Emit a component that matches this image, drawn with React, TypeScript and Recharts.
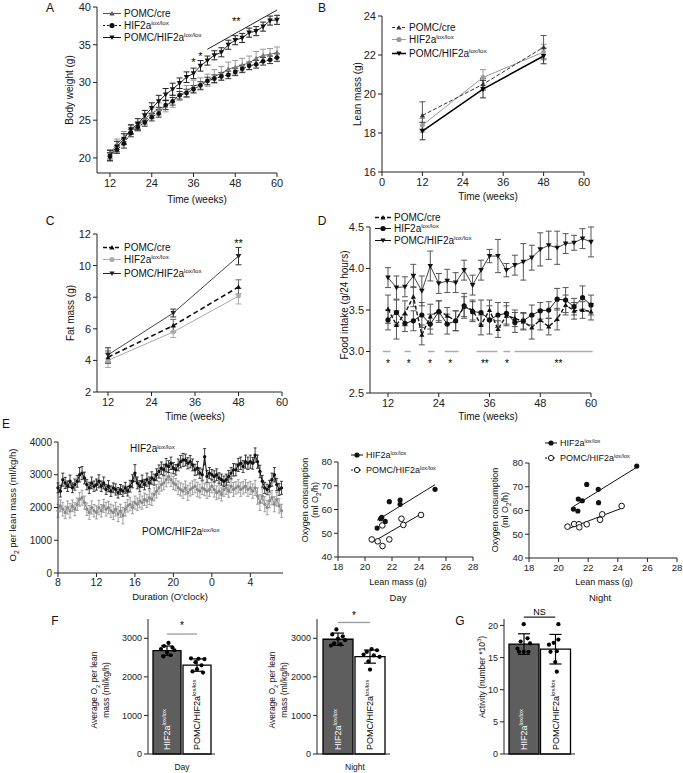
import React from 'react';
import {
  ComposedChart, Line, Scatter, Bar, Cell, XAxis, YAxis, ErrorBar,
  ReferenceLine, ReferenceDot, LabelList,
} from 'recharts';

const FONT = '"Liberation Sans", Arial, Helvetica, sans-serif';
const AX = '#222';

// ---------- A: body weight ----------
const weeksA = [12, 14, 16, 18, 20, 22, 24, 26, 28, 30, 32, 34, 36, 38, 40, 42, 44, 46, 48, 50, 52, 54, 56, 58, 60];
const bwCre = [20.5, 21.8, 22.8, 23.7, 24.2, 25.2, 25.9, 26.5, 26.9, 27.5, 28.4, 28.8, 29.5, 29.8, 30.3, 30.8, 31.2, 31.8, 32.0, 32.3, 32.6, 33.2, 33.6, 33.7, 34.0];
const bwCreErr = [0.6, 0.7, 0.7, 0.6, 0.6, 0.7, 0.7, 0.8, 0.8, 0.8, 0.8, 0.8, 0.8, 0.8, 0.8, 0.9, 0.9, 0.9, 0.9, 0.9, 0.9, 0.9, 0.8, 0.8, 0.7];
const bwHif = [20.2, 21.1, 21.9, 23.3, 24.1, 24.7, 25.4, 25.9, 27.0, 27.5, 28.3, 28.6, 29.1, 29.6, 30.2, 30.5, 30.8, 31.0, 31.4, 31.8, 32.2, 32.4, 32.8, 33.0, 33.3];
const bwHifErr = [0.5, 0.5, 0.6, 0.5, 0.5, 0.5, 0.5, 0.5, 0.6, 0.5, 0.5, 0.5, 0.5, 0.5, 0.5, 0.5, 0.5, 0.5, 0.5, 0.5, 0.5, 0.5, 0.5, 0.5, 0.5];
const bwKo = [20.3, 21.5, 22.5, 23.8, 24.5, 25.6, 26.6, 27.5, 28.4, 29.1, 29.9, 30.7, 31.2, 32.2, 32.9, 33.6, 34.0, 35.0, 35.6, 35.9, 36.6, 36.8, 37.4, 38.2, 38.3];
const bwKoErr = [0.7, 0.7, 0.7, 0.6, 0.7, 0.7, 0.7, 0.8, 0.8, 0.8, 0.7, 0.7, 0.7, 0.7, 0.6, 0.6, 0.6, 0.6, 0.6, 0.6, 0.6, 0.6, 0.6, 0.6, 0.6];
const weekTicks = [12, 24, 36, 48, 60];

// ---------- B: lean mass ----------
const weeksB = [12, 30, 48];
const leanCre = [18.9, 20.5, 22.4];
const leanCreErr = [0.7, 0.3, 0.6];
const leanHif = [18.4, 20.85, 22.15];
const leanHifErr = [0.35, 0.4, 0.4];
const leanKo = [18.1, 20.25, 21.95];
const leanKoErr = [0.45, 0.45, 0.4];

// ---------- C: fat mass ----------
const fatCre = [4.2, 6.2, 8.65];
const fatCreErr = [0.4, 0.4, 0.45];
const fatHif = [4.0, 5.8, 8.07];
const fatHifErr = [0.45, 0.35, 0.5];
const fatKo = [4.35, 7.0, 10.6];
const fatKoErr = [0.45, 0.25, 0.55];

// ---------- D: food intake ----------
const foodCre = [3.51, 3.32, 3.46, 3.66, 3.20, 3.42, 3.49, 3.43, 3.37, 3.54, 3.50, 3.32, 3.50, 3.27, 3.43, 3.40, 3.36, 3.29, 3.38, 3.30, 3.39, 3.56, 3.49, 3.50, 3.48];
const foodCreErr = [0.17, 0.17, 0.15, 0.12, 0.12, 0.15, 0.12, 0.1, 0.12, 0.12, 0.12, 0.12, 0.12, 0.1, 0.12, 0.1, 0.1, 0.14, 0.12, 0.1, 0.13, 0.12, 0.1, 0.1, 0.1];
const foodHif = [3.38, 3.47, 3.34, 3.37, 3.44, 3.33, 3.48, 3.33, 3.37, 3.55, 3.48, 3.47, 3.38, 3.44, 3.46, 3.35, 3.37, 3.44, 3.49, 3.50, 3.63, 3.62, 3.54, 3.65, 3.56];
const foodHifErr = [0.12, 0.15, 0.1, 0.12, 0.15, 0.12, 0.13, 0.12, 0.12, 0.15, 0.12, 0.15, 0.17, 0.15, 0.13, 0.12, 0.1, 0.12, 0.1, 0.1, 0.13, 0.15, 0.1, 0.14, 0.12];
const foodKo = [3.89, 3.77, 3.78, 3.91, 3.73, 4.03, 3.82, 3.85, 3.83, 3.98, 3.80, 3.98, 4.15, 4.15, 3.98, 4.04, 4.08, 4.13, 4.23, 4.28, 4.25, 4.30, 4.31, 4.36, 4.32];
const foodKoErr = [0.12, 0.14, 0.12, 0.14, 0.18, 0.18, 0.12, 0.14, 0.12, 0.12, 0.12, 0.12, 0.08, 0.2, 0.08, 0.12, 0.22, 0.15, 0.2, 0.17, 0.2, 0.12, 0.09, 0.12, 0.18];
const sigStart = [10.8, 15.9, 21.4, 25.4, 32.9, 39.3, 41.9];
const sigEnd = [12.6, 17.4, 23.0, 28.7, 37.9, 40.9, 60.4];
const starWeek = [12, 16.9, 21.9, 26.7, 34.9, 40.1, 52.3];
const starText = ['*', '*', '*', '*', '**', '*', '**'];

// ---------- E: O2 time course (15 min steps from 8:00) ----------
const stepHours = 0.25;
const o2Hif = [
  2600, 2500, 2850, 2750, 2650, 2800, 2600, 2700,
  2800, 3000, 3050, 2900, 2700, 2600, 2750, 2650,
  2700, 2800, 2650, 2750, 2550, 2650, 2500, 2600,
  2550, 2450, 2550, 2500, 2600, 2500, 2650, 2800,
  3050, 2750, 2650, 2800, 2700, 2850, 2750, 2900,
  2850, 3000, 3100, 3200, 3150, 3300, 3250, 3350,
  3200, 3150, 3300, 3400, 3450, 3450, 3350, 3400,
  3300, 3150, 3200, 3050, 3000, 3550, 2950, 3050,
  3000, 2950, 3000, 2900, 2850, 2800, 2850, 2950,
  3050, 3150, 3150, 3300, 3350, 3250, 3400, 3350,
  3400, 3350, 3600, 3400, 3100, 2800, 2600, 2550,
  2650, 2850, 3000, 2700, 2550, 2600,
];
const o2HifErr = [
  150, 180, 200, 170, 160, 190, 150, 170,
  180, 220, 200, 180, 160, 170, 180, 160,
  170, 200, 160, 180, 150, 170, 160, 150,
  170, 160, 150, 160, 170, 150, 180, 200,
  260, 180, 170, 190, 160, 200, 180, 190,
  170, 180, 200, 190, 170, 200, 180, 190,
  170, 160, 180, 190, 200, 180, 170, 190,
  180, 170, 200, 160, 170, 250, 180, 170,
  160, 170, 180, 160, 170, 160, 170, 180,
  170, 190, 180, 200, 190, 180, 200, 190,
  200, 180, 220, 200, 190, 180, 170, 160,
  180, 200, 220, 190, 180, 200,
];
const o2Ko = [
  1900, 2050, 1950, 1850, 2000, 1900, 2050, 1950,
  2100, 2250, 2300, 2150, 1950, 1850, 2000, 1900,
  1850, 2000, 1900, 2050, 1950, 2000, 1900, 1850,
  1950, 1800, 1900, 1750, 1950, 2050, 2100, 2000,
  2150, 2100, 2200, 2150, 2250, 2200, 2300, 2250,
  2400, 2500, 2600, 2700, 2750, 2850, 2950, 2850,
  2750, 2700, 2600, 2550, 2500, 2600, 2450, 2550,
  2600, 2650, 2550, 2500, 2600, 2550, 2500, 2550,
  2650, 2550, 2450, 2500, 2400, 2550, 2600, 2500,
  2650, 2550, 2600, 2650, 2550, 2600, 2650, 2550,
  2600, 2500, 2600, 2350, 2150, 2350, 2100, 2000,
  2200, 2300, 2100, 2250, 2050, 1900,
];
const o2KoErr = [
  200, 180, 210, 190, 200, 220, 180, 200,
  190, 210, 230, 200, 190, 210, 200, 190,
  200, 220, 190, 200, 210, 190, 200, 220,
  210, 230, 200, 250, 210, 190, 200, 190,
  200, 190, 210, 200, 190, 200, 210, 190,
  200, 210, 190, 200, 210, 220, 200, 210,
  200, 190, 210, 200, 220, 210, 230, 200,
  210, 200, 220, 210, 200, 190, 220, 210,
  200, 230, 210, 220, 200, 210, 200, 190,
  200, 210, 190, 200, 210, 190, 200, 210,
  200, 220, 230, 250, 240, 220, 230, 220,
  210, 220, 230, 210, 220, 200,
];
const clockTicks = [0, 4, 8, 12, 16, 20];
const clockLabels = ['8', '12', '16', '20', '0', '4'];

// ---------- E: O2 vs lean mass ----------
const dayHifLean = [20.9, 21.16, 21.24, 21.5, 21.8, 22.6, 22.6, 25.19];
const dayHifO2 = [52.2, 56.1, 56.7, 55.0, 63.3, 62.2, 64.0, 68.5];
const dayKoLean = [20.5, 20.94, 21.3, 21.28, 21.8, 22.7, 22.84, 24.15];
const dayKoO2 = [47.4, 46.6, 44.6, 53.3, 47.4, 56.1, 53.5, 57.7];
const nightHifLean = [21.0, 21.3, 21.33, 21.6, 21.9, 22.68, 22.7, 25.28];
const nightHifO2 = [60.6, 59.8, 64.8, 64.1, 71.0, 68.9, 63.3, 78.7];
const nightKoLean = [20.6, 21.05, 21.37, 21.4, 21.9, 22.8, 22.95, 24.26];
const nightKoO2 = [53.2, 54.3, 54.2, 52.9, 54.2, 56.1, 58.4, 61.9];

// ---------- F / G: bars ----------
const groups = ['HIF2a', 'POMC/HIF2a'];
const dayMean = [2680, 2305];
const dayErr = [120, 160];
const dayHifDots = [2880, 2800, 2760, 2720, 2690, 2630, 2560, 2530];
const dayHifJit = [0.55, 0.40, 0.68, 0.30, 0.75, 0.50, 0.62, 0.38];
const dayKoDots = [2480, 2470, 2460, 2380, 2300, 2200, 2140, 2110];
const dayKoJit = [0.30, 0.55, 0.75, 0.45, 0.65, 0.50, 0.35, 0.70];
const nightMean = [2975, 2525];
const nightErr = [160, 170];
const nightHifDots = [3230, 3100, 3050, 2990, 2950, 2870, 2840, 2810];
const nightHifJit = [0.45, 0.32, 0.65, 0.50, 0.72, 0.38, 0.58, 0.28];
const nightKoDots = [2720, 2690, 2650, 2580, 2560, 2520, 2400, 2190];
const nightKoJit = [0.55, 0.72, 0.40, 0.30, 0.62, 0.80, 0.45, 0.50];
const actMean = [17.1, 16.3];
const actErr = [1.6, 2.3];
const actHifDots = [20.2, 18.0, 17.5, 17.2, 16.4, 15.9, 15.9, 15.9];
const actHifJit = [0.5, 0.62, 0.40, 0.70, 0.30, 0.35, 0.5, 0.65];
const actKoDots = [20.2, 17.8, 17.3, 17.0, 16.0, 15.9, 14.3, 12.8];
const actKoJit = [0.6, 0.6, 0.45, 0.3, 0.55, 0.35, 0.5, 0.55];

type Box = { left: number; top: number; w: number; h: number };
type Plot = { l: number; t: number; r: number; b: number };

function layout(box: Box, plot: Plot) {
  return {
    margin: { top: plot.t - box.top, right: box.left + box.w - plot.r, bottom: 0, left: 0 },
    yw: plot.l - box.left,
    xh: box.top + box.h - plot.b,
  };
}

const tk = (size: number) => ({ fontSize: size, fill: '#222', fontFamily: FONT });

function Place({ box, children }: { box: Box; children: React.ReactNode }) {
  return <div style={{ position: 'absolute', left: box.left, top: box.top, width: box.w, height: box.h }}>{children}</div>;
}

function T({ x, y, size = 10, rot = false, anchor = 'middle', children, color = '#111' }: any) {
  const tx = anchor === 'middle' ? '-50%' : anchor === 'end' ? '-100%' : '0';
  return (
    <div style={{
      position: 'absolute', left: x, top: y, whiteSpace: 'nowrap', fontFamily: FONT, fontSize: size,
      lineHeight: 1.15, color, textAlign: 'center',
      transform: rot ? 'translate(-50%,-50%) rotate(-90deg)' : `translate(${tx},-50%)`,
    }}>{children}</div>
  );
}

const supStyle: React.CSSProperties = { fontSize: '0.62em', verticalAlign: '0.6em', lineHeight: 0 };
const Hif = () => <>HIF2a<sup style={supStyle}>lox/lox</sup></>;
const Ko = () => <>POMC/HIF2a<sup style={supStyle}>lox/lox</sup></>;

function mark(kind: string, cx: number, cy: number, s: number, color: string, key?: any) {
  if (kind === 'up') return <polygon key={key} points={`${cx},${cy - s} ${cx - s},${cy + s * 0.75} ${cx + s},${cy + s * 0.75}`} fill={color} />;
  if (kind === 'down') return <polygon key={key} points={`${cx},${cy + s} ${cx - s},${cy - s * 0.75} ${cx + s},${cy - s * 0.75}`} fill={color} />;
  if (kind === 'open') return <circle key={key} cx={cx} cy={cy} r={s} fill="#fff" stroke={color} strokeWidth={1} />;
  return <circle key={key} cx={cx} cy={cy} r={s} fill={color} />;
}
const dotFn = (kind: string, s: number, color: string) => (p: any) =>
  p.cx == null || p.cy == null ? <g key={p.index} /> : mark(kind, p.cx, p.cy, s, color, p.index);

type S = { key: string; err: string; kind: string; color: string; line: string; dash?: string; width?: number; errColor: string; size: number };
const series = (list: S[]) => list.map((s) => (
  <Line key={s.key} dataKey={s.key} stroke={s.line} strokeWidth={s.width ?? 1} strokeDasharray={s.dash}
    dot={dotFn(s.kind, s.size, s.color)} activeDot={false} isAnimationActive={false}>
    <ErrorBar dataKey={s.err} width={3} stroke={s.errColor} strokeWidth={1} direction="y" />
  </Line>
));

const starLabel = (value: string, size = 11) => ({ value, position: 'center' as const, fontSize: size, fill: '#000', fontFamily: FONT });

type LI = { kind: string; color: string; dash?: string; width?: number; text: React.ReactNode };
function Legend({ x, ys, items, size = 10, len = 18 }: { x: number; ys: number[]; items: LI[]; size?: number; len?: number }) {
  return (
    <>
      {items.map((it, i) => (
        <div key={i} style={{ position: 'absolute', left: x, top: ys[i], transform: 'translateY(-50%)', display: 'flex', alignItems: 'center', fontFamily: FONT, fontSize: size, whiteSpace: 'nowrap', color: '#111' }}>
          <svg width={len} height={10} style={{ marginRight: 3 }}>
            <line x1={0} x2={len} y1={5} y2={5} stroke={it.color} strokeWidth={it.width ?? 1} strokeDasharray={it.dash} />
            {mark(it.kind, len / 2, 5, 2.6, it.color)}
          </svg>
          <span>{it.text}</span>
        </div>
      ))}
    </>
  );
}

function PanelA() {
  const box = { left: 0, top: 0, w: 290, h: 215 };
  const L = layout(box, { l: 97, t: 7, r: 277, b: 173 });
  const rows = weeksA.map((w, i) => ({ w, cre: bwCre[i], creE: bwCreErr[i], hif: bwHif[i], hifE: bwHifErr[i], ko: bwKo[i], koE: bwKoErr[i] }));
  return (
    <Place box={box}>
      <ComposedChart width={box.w} height={box.h} data={rows} margin={L.margin}>
        <XAxis dataKey="w" type="number" domain={[12, 60]} ticks={weekTicks} padding={{ left: 13, right: 0 }} height={L.xh} tick={tk(11)} tickSize={4} stroke={AX} interval={0} />
        <YAxis type="number" domain={[18, 40]} ticks={[20, 25, 30, 35, 40]} width={L.yw} tick={tk(11)} tickSize={4} stroke={AX} interval={0} />
        {series([
          { key: 'cre', err: 'creE', kind: 'up', color: '#777', line: '#666', errColor: '#999', size: 2.6 },
          { key: 'hif', err: 'hifE', kind: 'circle', color: '#111', line: '#111', dash: '2 2', errColor: '#333', size: 2.4 },
          { key: 'ko', err: 'koE', kind: 'down', color: '#111', line: '#222', errColor: '#222', size: 2.8 },
        ])}
        <ReferenceLine segment={[{ x: 40, y: 34.4 }, { x: 60, y: 39.6 }]} stroke="#222" ifOverflow="visible" />
        <ReferenceDot x={36} y={32.7} r={0.01} ifOverflow="visible" label={starLabel('*')} />
        <ReferenceDot x={38} y={33.5} r={0.01} ifOverflow="visible" label={starLabel('*')} />
        <ReferenceDot x={48.3} y={38.1} r={0.01} ifOverflow="visible" label={starLabel('**')} />
      </ComposedChart>
    </Place>
  );
}

function PanelB() {
  const box = { left: 340, top: 0, w: 260, h: 215 };
  const L = layout(box, { l: 382, t: 16, r: 584, b: 172 });
  const rows = weeksB.map((w, i) => ({ w, cre: leanCre[i], creE: leanCreErr[i], hif: leanHif[i], hifE: leanHifErr[i], ko: leanKo[i], koE: leanKoErr[i] }));
  return (
    <Place box={box}>
      <ComposedChart width={box.w} height={box.h} data={rows} margin={L.margin}>
        <XAxis dataKey="w" type="number" domain={[0, 60]} ticks={[0, 12, 24, 36, 48, 60]} height={L.xh} tick={tk(11)} tickSize={4} stroke={AX} interval={0} />
        <YAxis type="number" domain={[16, 24]} ticks={[16, 18, 20, 22, 24]} width={L.yw} tick={tk(11)} tickSize={4} stroke={AX} interval={0} />
        {series([
          { key: 'hif', err: 'hifE', kind: 'circle', color: '#999', line: '#999', errColor: '#999', size: 2.4 },
          { key: 'cre', err: 'creE', kind: 'up', color: '#333', line: '#333', dash: '4 2', errColor: '#555', size: 2.6 },
          { key: 'ko', err: 'koE', kind: 'down', color: '#000', line: '#000', width: 1.5, errColor: '#333', size: 2.8 },
        ])}
      </ComposedChart>
    </Place>
  );
}

function PanelC() {
  const box = { left: 0, top: 215, w: 300, h: 215 };
  const L = layout(box, { l: 97, t: 234, r: 282, b: 392 });
  const rows = weeksB.map((w, i) => ({ w, cre: fatCre[i], creE: fatCreErr[i], hif: fatHif[i], hifE: fatHifErr[i], ko: fatKo[i], koE: fatKoErr[i] }));
  return (
    <Place box={box}>
      <ComposedChart width={box.w} height={box.h} data={rows} margin={L.margin}>
        <XAxis dataKey="w" type="number" domain={[12, 60]} ticks={weekTicks} padding={{ left: 11, right: 0 }} height={L.xh} tick={tk(11)} tickSize={4} stroke={AX} interval={0} />
        <YAxis type="number" domain={[2, 12]} ticks={[2, 4, 6, 8, 10, 12]} width={L.yw} tick={tk(11)} tickSize={4} stroke={AX} interval={0} />
        {series([
          { key: 'hif', err: 'hifE', kind: 'circle', color: '#aaa', line: '#aaa', errColor: '#aaa', size: 2.4 },
          { key: 'cre', err: 'creE', kind: 'up', color: '#111', line: '#111', dash: '5 3', width: 1.6, errColor: '#666', size: 2.6 },
          { key: 'ko', err: 'koE', kind: 'down', color: '#222', line: '#444', errColor: '#333', size: 2.8 },
        ])}
        <ReferenceDot x={48} y={11.4} r={0.01} ifOverflow="visible" label={starLabel('**')} />
      </ComposedChart>
    </Place>
  );
}

function PanelD() {
  const box = { left: 340, top: 215, w: 270, h: 215 };
  const L = layout(box, { l: 370, t: 227, r: 591, b: 393 });
  const rows = weeksA.map((w, i) => ({ w, cre: foodCre[i], creE: foodCreErr[i], hif: foodHif[i], hifE: foodHifErr[i], ko: foodKo[i], koE: foodKoErr[i] }));
  return (
    <Place box={box}>
      <ComposedChart width={box.w} height={box.h} data={rows} margin={L.margin}>
        <XAxis dataKey="w" type="number" domain={[12, 60]} ticks={weekTicks} padding={{ left: 18, right: 0 }} height={L.xh} tick={tk(11)} tickSize={4} stroke={AX} interval={0} />
        <YAxis type="number" domain={[2.5, 4.5]} ticks={[2.5, 3.0, 3.5, 4.0, 4.5]} tickFormatter={(v: number) => v.toFixed(1)} width={L.yw} tick={tk(11)} tickSize={4} stroke={AX} interval={0} />
        {sigStart.map((s, i) => (
          <ReferenceLine key={'s' + i} segment={[{ x: s, y: 3.0 }, { x: sigEnd[i], y: 3.0 }]} stroke="#aaa" strokeWidth={1.5} ifOverflow="visible" />
        ))}
        {starWeek.map((w, i) => (
          <ReferenceDot key={'t' + i} x={w} y={2.86} r={0.01} ifOverflow="visible" label={starLabel(starText[i], 10)} />
        ))}
        {series([
          { key: 'cre', err: 'creE', kind: 'up', color: '#111', line: '#111', dash: '4 2', width: 1.4, errColor: '#555', size: 2.6 },
          { key: 'hif', err: 'hifE', kind: 'circle', color: '#111', line: '#222', errColor: '#555', size: 2.6 },
          { key: 'ko', err: 'koE', kind: 'down', color: '#111', line: '#444', errColor: '#555', size: 2.8 },
        ])}
      </ComposedChart>
    </Place>
  );
}

function PanelE() {
  const box = { left: 0, top: 430, w: 290, h: 175 };
  const L = layout(box, { l: 58, t: 442, r: 283, b: 573 });
  const rows = o2Hif.map((v, i) => ({ h: i * stepHours, hif: v, hifE: o2HifErr[i], ko: o2Ko[i], koE: o2KoErr[i] }));
  return (
    <Place box={box}>
      <ComposedChart width={box.w} height={box.h} data={rows} margin={L.margin}>
        <XAxis dataKey="h" type="number" domain={[0, 23.4]} ticks={clockTicks} tickFormatter={(v: number) => clockLabels[clockTicks.indexOf(v)]} height={L.xh} tick={tk(10.5)} tickSize={4} stroke={AX} interval={0} />
        <YAxis type="number" domain={[0, 4000]} ticks={[0, 1000, 2000, 3000, 4000]} width={L.yw} tick={tk(10)} tickSize={4} stroke={AX} interval={0} />
        <Line dataKey="ko" stroke="#8a8a8a" strokeWidth={1} dot={dotFn('circle', 1.6, '#888')} activeDot={false} isAnimationActive={false}>
          <ErrorBar dataKey="koE" width={1.5} stroke="#8a8a8a" strokeWidth={0.8} direction="y" />
        </Line>
        <Line dataKey="hif" stroke="#111" strokeWidth={1} dot={dotFn('circle', 1.7, '#111')} activeDot={false} isAnimationActive={false}>
          <ErrorBar dataKey="hifE" width={1.5} stroke="#111" strokeWidth={0.8} direction="y" />
        </Line>
      </ComposedChart>
    </Place>
  );
}

function ScatterPanel({ box, plot, hifX, hifY, koX, koY }: { box: Box; plot: Plot; hifX: number[]; hifY: number[]; koX: number[]; koY: number[] }) {
  const L = layout(box, plot);
  const hif = hifX.map((x, i) => ({ x, y: hifY[i] }));
  const ko = koX.map((x, i) => ({ x, y: koY[i] }));
  return (
    <Place box={box}>
      <ComposedChart width={box.w} height={box.h} margin={L.margin}>
        <XAxis dataKey="x" type="number" domain={[18, 28]} ticks={[18, 20, 22, 24, 26, 28]} height={L.xh} tick={tk(9.5)} tickSize={4} stroke={AX} interval={0} />
        <YAxis dataKey="y" type="number" domain={[40, 80]} ticks={[40, 50, 60, 70, 80]} width={L.yw} tick={tk(9.5)} tickSize={4} stroke={AX} interval={0} />
        <Scatter data={ko} line={{ stroke: '#111', strokeWidth: 1 }} lineType="fitting" isAnimationActive={false}
          shape={(p: any) => mark('open', p.cx, p.cy, 2.8, '#111')} />
        <Scatter data={hif} line={{ stroke: '#111', strokeWidth: 1 }} lineType="fitting" isAnimationActive={false}
          shape={(p: any) => mark('circle', p.cx, p.cy, 2.6, '#111')} />
      </ComposedChart>
    </Place>
  );
}

const barText = (p: any) => {
  const { x, y, width, height, index } = p;
  const cx = x + width / 2 + 3;
  const by = y + height - 4;
  return (
    <text key={index} x={cx} y={by} transform={`rotate(-90, ${cx}, ${by})`} fontSize={9} fontFamily={FONT} fill={index === 0 ? '#fff' : '#000'}>
      {groups[index]}<tspan fontSize={5.8} dy={-4}>lox/lox</tspan>
    </text>
  );
};

function BarPanel({ box, plot, pad, mean, err, dotsA, jitA, dotsB, jitB, yMax, yTicks, sigY, starY, starText: st }: any) {
  const L = layout(box, plot);
  const rows = groups.map((g, i) => ({ g, v: mean[i], e: err[i] }));
  const dots = [
    ...dotsA.map((v: number, i: number) => ({ x: jitA[i], y: v })),
    ...dotsB.map((v: number, i: number) => ({ x: 1 + jitB[i], y: v })),
  ];
  return (
    <Place box={box}>
      <ComposedChart width={box.w} height={box.h} data={rows} margin={L.margin} barCategoryGap={1}>
        <XAxis dataKey="g" type="category" padding={pad} height={L.xh} tick={false} tickSize={4} stroke={AX} />
        <XAxis xAxisId="j" type="number" dataKey="x" domain={[0, 2]} padding={pad} hide />
        <YAxis type="number" domain={[0, yMax]} ticks={yTicks} width={L.yw} tick={tk(9)} tickSize={4} stroke={AX} interval={0} />
        <Bar dataKey="v" stroke="#000" strokeWidth={1.3} isAnimationActive={false}>
          {rows.map((r, i) => <Cell key={i} fill={i === 0 ? '#5e5e5e' : '#fff'} />)}
          <ErrorBar dataKey="e" width={6} stroke="#000" strokeWidth={1.2} direction="y" />
          <LabelList dataKey="g" content={barText} />
        </Bar>
        <Scatter xAxisId="j" data={dots} dataKey="y" isAnimationActive={false}
          shape={(p: any) => <circle cx={p.cx} cy={p.cy} r={2.1} fill="#000" />} />
        <ReferenceLine segment={[{ x: groups[0], y: sigY }, { x: groups[1], y: sigY }]} stroke={st === 'NS' ? '#222' : '#999'} strokeWidth={1.3} ifOverflow="visible" />
        <ReferenceDot xAxisId="j" x={1} y={starY} r={0.01} ifOverflow="visible" label={starLabel(st, st === 'NS' ? 9 : 10)} />
      </ComposedChart>
    </Place>
  );
}

export default function App() {
  const legA: LI[] = [
    { kind: 'up', color: '#555', text: 'POMC/cre' },
    { kind: 'circle', color: '#111', dash: '2 2', text: <Hif /> },
    { kind: 'down', color: '#111', text: <Ko /> },
  ];
  const legB: LI[] = [
    { kind: 'up', color: '#333', dash: '3 2', text: 'POMC/cre' },
    { kind: 'circle', color: '#999', text: <Hif /> },
    { kind: 'down', color: '#000', width: 1.5, text: <Ko /> },
  ];
  const legC: LI[] = [
    { kind: 'up', color: '#111', dash: '4 2', width: 1.6, text: 'POMC/cre' },
    { kind: 'circle', color: '#aaa', text: <Hif /> },
    { kind: 'down', color: '#222', text: <Ko /> },
  ];
  const legD: LI[] = [
    { kind: 'up', color: '#111', dash: '4 2', width: 1.5, text: 'POMC/cre' },
    { kind: 'circle', color: '#111', text: <Hif /> },
    { kind: 'down', color: '#111', text: <Ko /> },
  ];
  const legS: LI[] = [
    { kind: 'circle', color: '#111', text: <Hif /> },
    { kind: 'open', color: '#111', dash: '2 2', text: <Ko /> },
  ];
  return (
    <div style={{ position: 'absolute', left: 0, top: 0, width: 683, height: 773, background: '#fff', overflow: 'hidden', fontFamily: FONT }}>
      <PanelA />
      <PanelB />
      <PanelC />
      <PanelD />
      <PanelE />
      <ScatterPanel box={{ left: 290, top: 440, w: 195, h: 150 }} plot={{ l: 338, t: 462, r: 473, b: 557 }} hifX={dayHifLean} hifY={dayHifO2} koX={dayKoLean} koY={dayKoO2} />
      <ScatterPanel box={{ left: 480, top: 440, w: 203, h: 150 }} plot={{ l: 529, t: 463, r: 677, b: 558 }} hifX={nightHifLean} hifY={nightHifO2} koX={nightKoLean} koY={nightKoO2} />
      <BarPanel box={{ left: 100, top: 605, w: 125, h: 165 }} plot={{ l: 148, t: 619, r: 215, b: 754 }} pad={{ left: 4, right: 3 }}
        mean={dayMean} err={dayErr} dotsA={dayHifDots} jitA={dayHifJit} dotsB={dayKoDots} jitB={dayKoJit}
        yMax={3500} yTicks={[0, 1000, 2000, 3000]} sigY={3110} starY={3330} starText="*" />
      <BarPanel box={{ left: 270, top: 605, w: 125, h: 165 }} plot={{ l: 317, t: 619, r: 390, b: 754 }} pad={{ left: 5, right: 4 }}
        mean={nightMean} err={nightErr} dotsA={nightHifDots} jitA={nightHifJit} dotsB={nightKoDots} jitB={nightKoJit}
        yMax={3500} yTicks={[0, 1000, 2000, 3000]} sigY={3410} starY={3580} starText="*" />
      <BarPanel box={{ left: 455, top: 605, w: 130, h: 165 }} plot={{ l: 504, t: 619, r: 575, b: 754 }} pad={{ left: 4, right: 4 }}
        mean={actMean} err={actErr} dotsA={actHifDots} jitA={actHifJit} dotsB={actKoDots} jitB={actKoJit}
        yMax={21} yTicks={[0, 5, 10, 15, 20]} sigY={21.3} starY={22.1} starText="NS" />

      {/* panel letters */}
      <T x={50} y={9} size={12}>A</T>
      <T x={322} y={9} size={12}>B</T>
      <T x={50} y={222} size={12}>C</T>
      <T x={322} y={222} size={12}>D</T>
      <T x={6} y={425} size={12}>E</T>
      <T x={55} y={622} size={12}>F</T>
      <T x={460} y={622} size={12}>G</T>

      {/* axis titles */}
      <T x={70} y={90} rot>Body weight (g)</T>
      <T x={197} y={200}>Time (weeks)</T>
      <T x={358} y={94} rot>Lean mass (g)</T>
      <T x={488} y={197}>Time (weeks)</T>
      <T x={71} y={313} rot>Fat mass (g)</T>
      <T x={195} y={417}>Time (weeks)</T>
      <T x={345} y={305} rot>Food intake (g/24 hours)</T>
      <T x={488} y={417}>Time (weeks)</T>
      <T x={14} y={505} rot size={9.5}>O<sub style={{ fontSize: '0.7em' }}>2</sub> per lean mass (ml/kg/h)</T>
      <T x={170} y={597} size={9.5}>Duration (O'clock)</T>
      <T x={311} y={500} rot size={9}>Oxygen consumption<br />(ml O<sub style={{ fontSize: '0.7em' }}>2</sub>/h)</T>
      <T x={398} y={582} size={9}>Lean mass (g)</T>
      <T x={398} y={598} size={9.5}>Day</T>
      <T x={501} y={510} rot size={9}>Oxygen consumption<br />(ml O<sub style={{ fontSize: '0.7em' }}>2</sub>/h)</T>
      <T x={604} y={582} size={9}>Lean mass (g)</T>
      <T x={600} y={598} size={9.5}>Night</T>
      <T x={101} y={690} rot size={8.5}>Average O<sub style={{ fontSize: '0.7em' }}>2</sub> per lean<br />mass (ml/kg/h)</T>
      <T x={182} y={768} size={8.5}>Day</T>
      <T x={279} y={690} rot size={8.5}>Average O<sub style={{ fontSize: '0.7em' }}>2</sub> per lean<br />mass (ml/kg/h)</T>
      <T x={355} y={768} size={8.5}>Night</T>
      <T x={482} y={677} rot size={8.5}>Activity (number *10<sup style={{ fontSize: '0.7em' }}>3</sup>)</T>

      {/* in-plot labels */}
      <T x={130} y={449} anchor="start" size={10}><Hif /></T>
      <T x={142} y={532} anchor="start" size={10}><Ko /></T>

      {/* legends */}
      <Legend x={103} ys={[13, 25, 37]} items={legA} />
      <Legend x={392} ys={[27, 39, 53]} items={legB} len={14} />
      <Legend x={103} ys={[247, 259, 273]} items={legC} />
      <Legend x={375} ys={[217, 228, 240]} items={legD} len={16} />
      <Legend x={351} ys={[455, 470]} items={legS} size={9} len={12} />
      <Legend x={545} ys={[443, 458]} items={legS} size={9} len={12} />
    </div>
  );
}
